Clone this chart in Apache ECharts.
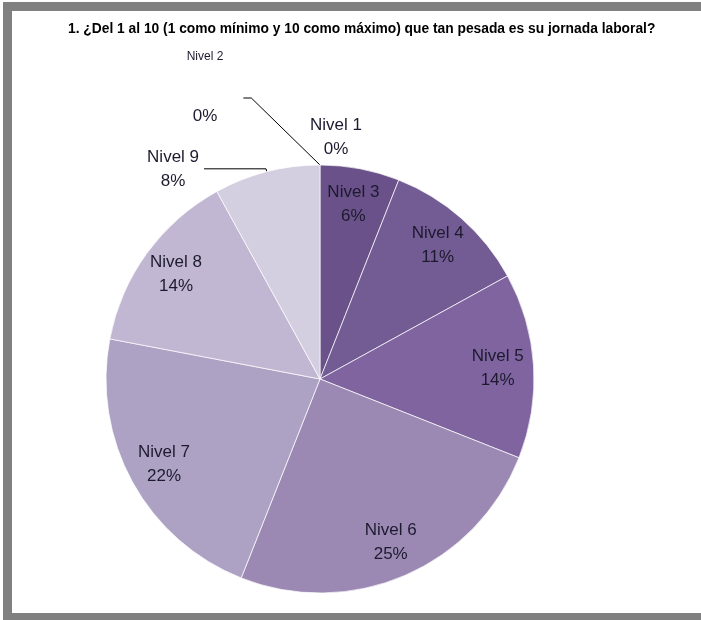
<!DOCTYPE html>
<html>
<head>
<meta charset="utf-8">
<script src="https://cdn.jsdelivr.net/npm/echarts@6/dist/echarts.min.js"></script>
<style>
  html, body { margin: 0; padding: 0; background: #fff; }
  #chart { width: 701px; height: 620px; }
</style>
</head>
<body>
<div id="chart"></div>
<script>
const titleText = '1. ¿Del 1 al 10 (1 como mínimo y 10 como máximo) que tan pesada es su jornada laboral?';

const niveles = ['Nivel 1', 'Nivel 2', 'Nivel 3', 'Nivel 4', 'Nivel 5', 'Nivel 6', 'Nivel 7', 'Nivel 8', 'Nivel 9'];
const porcentajes = [0, 0, 6, 11, 14, 25, 22, 14, 8];
const colores = ['#5d4580', '#654c87', '#6a5189', '#735b94', '#7f64a0', '#9b89b3', '#aea2c4', '#c2b7d3', '#d3cee0'];

const textColor = '#1c1a2e';
const fontFam = '"Liberation Sans", Arial, sans-serif';
const frameColor = '#808080';

const chart = echarts.init(document.getElementById('chart'));

// main pie: slices + the outside labels (Nivel 1, Nivel 2, Nivel 9)
const mainData = niveles.map((name, i) => {
    const item = {
        name: name,
        value: porcentajes[i],
        itemStyle: { color: colores[i] },
        label: { show: false },
        labelLine: { show: false }
    };
    if (i === 0) {
        item.label = { show: true, formatter: '{b}\n{c}%' };
    }
    if (i === 1) {
        item.label = {
            show: true,
            formatter: '{n|{b}}\n{g|}\n{p|{c}%}',
            padding: [0, 20, 20, 0],
            rich: {
                n: { fontSize: 12, lineHeight: 14, color: textColor, fontFamily: fontFam, align: 'center' },
                g: { lineHeight: 43, fontSize: 1 },
                p: { fontSize: 17, lineHeight: 20, color: textColor, fontFamily: fontFam, align: 'center' }
            }
        };
        item.labelLine = { show: true, length: 10, length2: 8 };
    }
    if (i === 8) {
        item.label = {
            show: true,
            formatter: '{a|{b}}\n{a|{c}%}',
            rich: {
                a: { fontSize: 17, lineHeight: 24, color: textColor, fontFamily: fontFam, align: 'center' }
            }
        };
        item.labelLine = { show: true, length: 3, length2: 62 };
    }
    return item;
});

// transparent ring only used to place the inside labels further out
const innerLabelData = niveles.map((name, i) => ({
    name: name,
    value: porcentajes[i],
    label: { show: i >= 2 && i <= 7 }
}));

const option = {
    backgroundColor: '#fff',
    animation: false,
    title: {
        text: titleText,
        left: 63,
        top: 17,
        textStyle: {
            fontSize: 13.8,
            fontWeight: 'bold',
            color: '#000',
            fontFamily: fontFam
        }
    },
    graphic: [
        { type: 'rect', shape: { x: 3, y: 2, width: 698, height: 9 }, style: { fill: frameColor }, silent: true },
        { type: 'rect', shape: { x: 3, y: 2, width: 9, height: 618 }, style: { fill: frameColor }, silent: true },
        { type: 'rect', shape: { x: 3, y: 613, width: 698, height: 7 }, style: { fill: frameColor }, silent: true }
    ],
    series: [
        {
            type: 'pie',
            center: [320, 379],
            radius: 214,
            startAngle: 90,
            clockwise: true,
            avoidLabelOverlap: false,
            silent: true,
            itemStyle: {
                borderColor: 'rgba(255,255,255,0.7)',
                borderWidth: 1
            },
            label: {
                position: 'outside',
                color: textColor,
                fontSize: 17,
                lineHeight: 24,
                fontFamily: fontFam
            },
            labelLine: {
                lineStyle: { color: '#000', width: 1 }
            },
            labelLayout: function (params) {
                if (params.dataIndex === 0) {
                    return { x: 336, y: 137, align: 'center', verticalAlign: 'middle' };
                }
                if (params.dataIndex === 1) {
                    return { x: 215, y: 98, align: 'center', verticalAlign: 'middle' };
                }
                return {};
            },
            data: mainData
        },
        {
            type: 'pie',
            center: [320, 379],
            radius: [136, 214],
            startAngle: 90,
            clockwise: true,
            silent: true,
            z: 3,
            itemStyle: { color: 'rgba(0,0,0,0)' },
            label: {
                position: 'inside',
                formatter: '{b}\n{c}%',
                color: textColor,
                fontSize: 17,
                lineHeight: 24,
                fontFamily: fontFam
            },
            labelLine: { show: false },
            data: innerLabelData
        }
    ]
};

chart.setOption(option);
</script>
</body>
</html>
